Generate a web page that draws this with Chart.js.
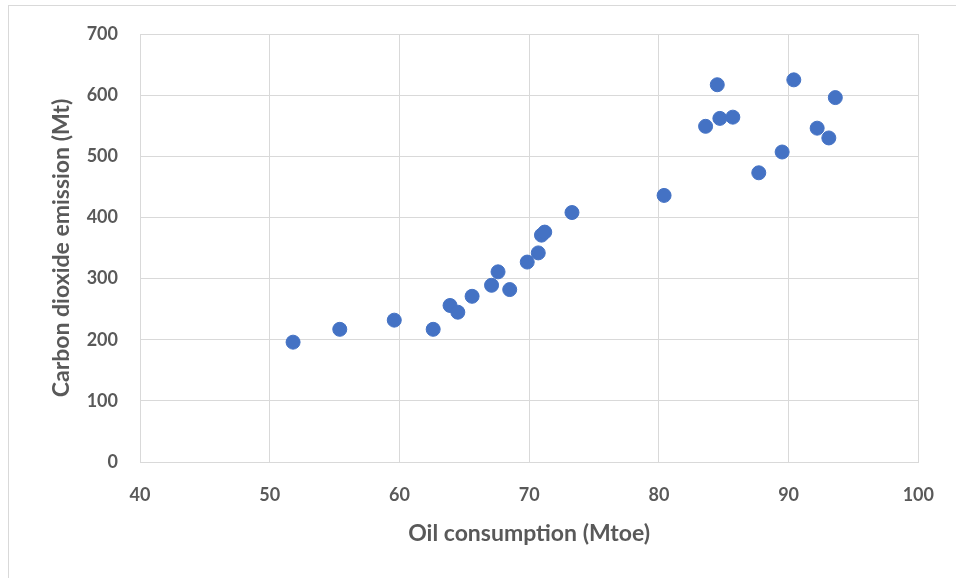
<!DOCTYPE html>
<html>
<head>
<meta charset="utf-8">
<script src="https://cdn.jsdelivr.net/npm/chart.js@4"></script>
<style>
  html, body { margin: 0; padding: 0; background: #fff; }
  #wrap { position: relative; width: 956px; height: 578px; }
  #frame { position: absolute; left: 8px; top: 5px; width: 960px; height: 600px;
           border-left: 1px solid #d9d9d9; border-top: 1px solid #d9d9d9; }
</style>
</head>
<body>
<div id="wrap">
  <div id="frame"></div>
  <canvas id="scatterChart" width="956" height="578"></canvas>
</div>
<script>
// 석유 소비량 (Mtoe)
var oilConsumption = [51.8, 55.4, 59.6, 62.6, 63.9, 64.5, 65.6, 67.1, 67.6, 68.5, 69.85, 70.7, 70.95, 71.2, 73.3,
                      80.4, 83.6, 84.5, 84.7, 85.7, 87.7, 89.5, 90.4, 92.2, 93.1, 93.6];
// 이산화탄소 배출량 (Mt)
var co2Emission = [196, 217, 232, 217, 256, 245, 271, 289, 311, 282, 327, 342, 371, 376, 408,
                   436, 549, 617, 562, 564, 473, 507, 625, 546, 530, 596];

var xTicks = [40, 50, 60, 70, 80, 90, 100];
var yTicks = [0, 100, 200, 300, 400, 500, 600, 700];

var points = oilConsumption.map(function (x, i) {
    return { x: x, y: co2Emission[i] };
});

var textColor = '#595959';
var gridColor = '#d9d9d9';

var ctx = document.getElementById('scatterChart').getContext('2d');
var scatterChart = new Chart(ctx, {
    type: 'scatter',
    data: {
        datasets: [{
            data: points,
            backgroundColor: '#4472c4',
            borderColor: '#4472c4',
            pointRadius: 7,
            pointHoverRadius: 7
        }]
    },
    options: {
        responsive: false,
        animation: false,
        layout: {
            padding: { left: 0, top: 34, right: 36, bottom: 0 }
        },
        plugins: {
            legend: { display: false },
            tooltip: { enabled: false }
        },
        scales: {
            x: {
                type: 'linear',
                min: xTicks[0],
                max: xTicks[xTicks.length - 1],
                afterBuildTicks: function (scale) {
                    scale.ticks = xTicks.map(function (v) { return { value: v }; });
                },
                afterFit: function (scale) { scale.height = 116; },
                grid: { color: gridColor, drawTicks: false },
                border: { color: gridColor },
                ticks: {
                    color: textColor,
                    padding: 22,
                    maxRotation: 0,
                    font: { family: 'Lato', size: 18, weight: 'bold' }
                },
                title: {
                    display: true,
                    text: 'Oil consumption (Mtoe)',
                    color: textColor,
                    padding: { top: 0, bottom: 31 },
                    font: { family: 'Lato', size: 23, weight: 'bold' }
                }
            },
            y: {
                type: 'linear',
                min: yTicks[0],
                max: yTicks[yTicks.length - 1],
                afterBuildTicks: function (scale) {
                    scale.ticks = yTicks.map(function (v) { return { value: v }; });
                },
                afterFit: function (scale) { scale.width = 140; },
                grid: { color: gridColor, drawTicks: false },
                border: { color: gridColor },
                ticks: {
                    color: textColor,
                    padding: 22,
                    font: { family: 'Lato', size: 18, weight: 'bold' }
                },
                title: {
                    display: true,
                    text: 'Carbon dioxide emission (Mt)',
                    color: textColor,
                    padding: { top: 48, bottom: 0 },
                    font: { family: 'Lato', size: 23, weight: 'bold' }
                }
            }
        }
    }
});
</script>
</body>
</html>
